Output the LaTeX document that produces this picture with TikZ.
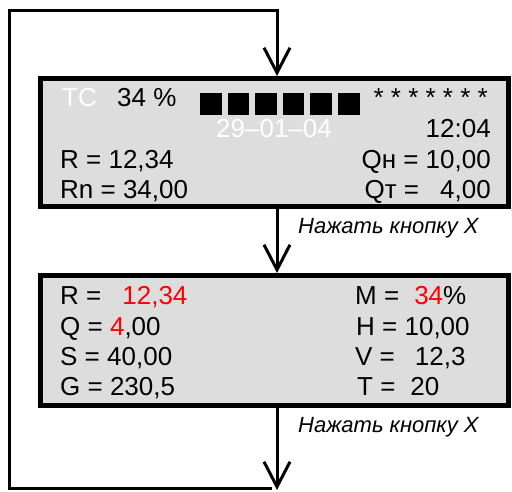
\documentclass[tikz,border=0pt]{standalone}
\usepackage{fontspec}
\setmainfont{Liberation Sans}
\usetikzlibrary{arrows.meta}
\definecolor{boxgray}{RGB}{221,221,221}
\begin{document}
\begin{tikzpicture}[x=1pt,y=-1pt,
  panel/.style={draw=black, line width=5pt, fill=boxgray, inner sep=0pt, minimum width=468pt},
  txt/.style={inner sep=0pt, font=\fontsize{26}{30}\selectfont},
  lbl/.style={inner sep=0pt, anchor=base west, font=\fontsize{22}{26}\selectfont\itshape},
  conn/.style={line width=3pt, line join=miter, -{Straight Barb[length=25pt,width=26pt]}}]
\useasboundingbox (0,0) rectangle (512,491);
% panels
\node[panel, minimum height=128pt] (box1) at (274.5,142.5) {};
\node[panel, minimum height=130pt] (box2) at (274.5,340.5) {};
% loop coordinates
\coordinate (tl) at (9.5,10);
\coordinate (tr) at (277,10);
\coordinate (bl) at (9.5,488.5);
\coordinate (br) at (272,488.5);
\coordinate (endp) at (277,490);
% connectors
\draw[conn] (br) -- (bl) -- (tl) -- (tr) -- (tr |- box1.north);
\draw[conn] (box1.south -| tr) -- (box2.north -| tr);
\draw[conn] (box2.south -| tr) -- (endp);
% box 1 contents
\node[txt, anchor=base west, text=white] (tc) at (62,106) {TC};
\node[txt, anchor=base west] (pct) at (117,106) {34 \%};
\foreach \i in {0,...,5} \fill (200+27.6*\i,93) rectangle ++(21.5,22);
\node[txt, anchor=base east] (stars) at (488,106) {* * * * * * *};
\node[txt, anchor=base west, text=white] (date) at (216,137) {29–01–04};
\node[txt, anchor=base east] (time) at (491,137) {12:04};
\node[txt, anchor=base west] (r1) at (60,168) {R = 12,34};
\node[txt, anchor=base east] (qh) at (491,168) {Qн = 10,00};
\node[txt, anchor=base west] (rn) at (60,198) {Rn = 34,00};
\node[txt, anchor=base east] (qt) at (491,198) {Qт =\hspace{21pt}4,00};
\node[lbl] (press1) at (298,233) {Нажать кнопку X};
% box 2 contents
\node[txt, anchor=base west] (r2) at (60,304) {R =\hspace{21pt}\textcolor{red}{12,34}};
\node[txt, anchor=base west] (q2) at (60,335) {Q = \textcolor{red}{4},00};
\node[txt, anchor=base west] (s2) at (60,365) {S = 40,00};
\node[txt, anchor=base west] (g2) at (60,395) {G = 230,5};
\node[txt, anchor=base west] (m2) at (355,304) {M =\hspace{15pt}\textcolor{red}{34}\%};
\node[txt, anchor=base west] (h2) at (356,335) {H = 10,00};
\node[txt, anchor=base west] (v2) at (355,365) {V =\hspace{20pt}12,3};
\node[txt, anchor=base west] (t2) at (357,395) {T =\hspace{15pt}20};
\node[lbl] (press2) at (298,432) {Нажать кнопку X};
\end{tikzpicture}
\end{document}
